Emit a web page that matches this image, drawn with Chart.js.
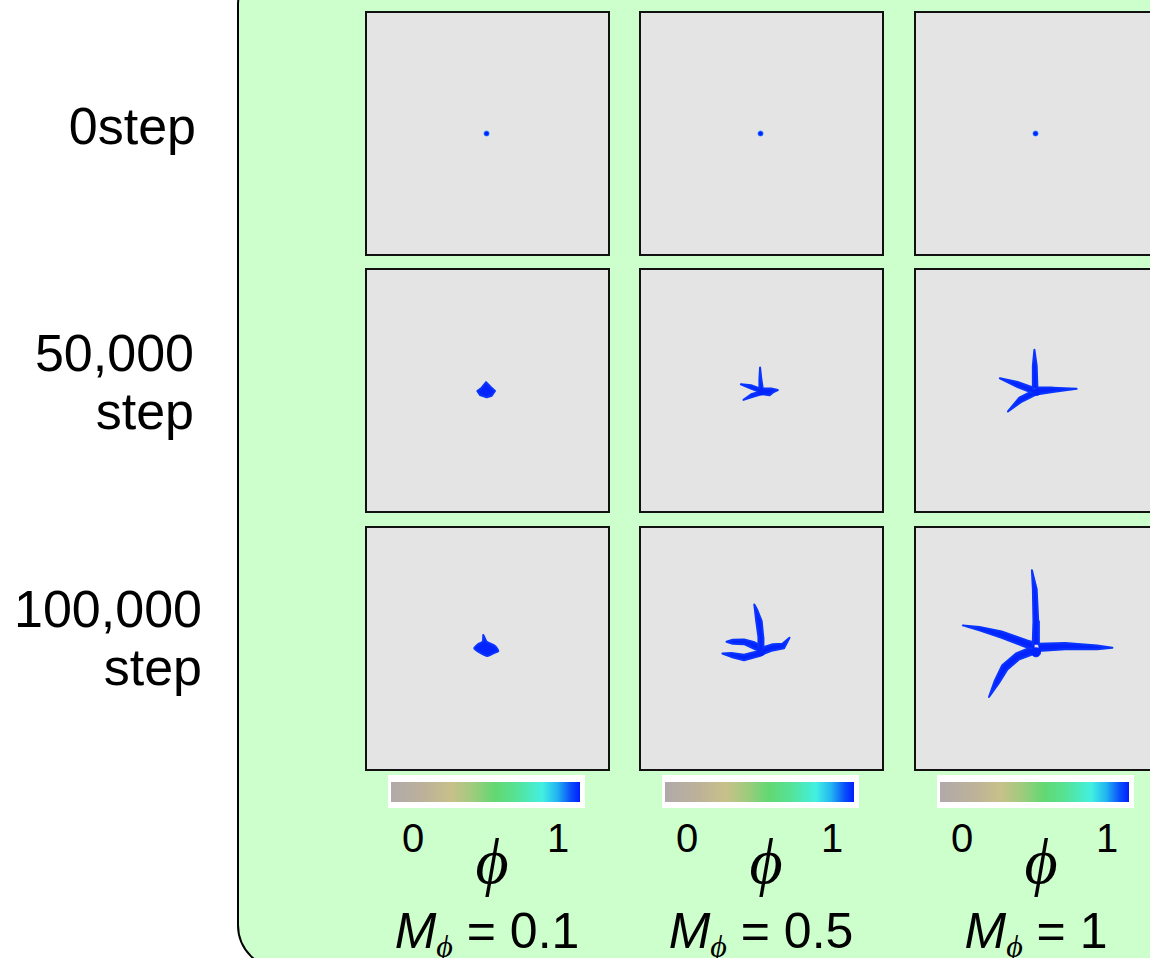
<!DOCTYPE html>
<html>
<head>
<meta charset="utf-8">
<script src="https://cdn.jsdelivr.net/npm/chart.js@4.4.1/dist/chart.umd.min.js"></script>
<style>
  body { margin: 0; width: 1150px; height: 958px; overflow: hidden; background: #fff;
         position: relative; font-family: "Liberation Sans", Arial, sans-serif; color: #000; }
  #frame { position: absolute; left: 237px; top: -40px; width: 1000px; height: 1006px;
           background: #ccffcc; border: 2px solid #000; border-radius: 45px; }
  .cell { position: absolute; width: 241px; height: 241px; border: 2px solid #111; background: #e4e4e4; }
  .cell canvas { display: block; }
  .rowlab { position: absolute; width: 220px; text-align: right; font-size: 52px; line-height: 58px; white-space: pre; }
  .cbar { position: absolute; width: 189px; height: 20px; background: #fff; padding: 7px 5px 6px 3px; }
  .cbar div { width: 100%; height: 100%;
    background: linear-gradient(to right, #b1a9aa 0%, #bdb299 18%, #c8c08a 32%, #9ccc7c 44%, #62d872 55%,
                #56e294 66%, #42f0e2 80%, #22b4f2 88%, #0a50fa 95%, #001eff 100%); }
  .tick { position: absolute; width: 40px; margin-left: -20px; text-align: center; font-size: 40px; line-height: 40px; }
  .phi { position: absolute; width: 60px; margin-left: -30px; text-align: center; font-family: "Liberation Serif", "DejaVu Serif", serif;
         font-style: italic; font-size: 64px; line-height: 64px; }
  .mlab { position: absolute; width: 240px; margin-left: -120px; text-align: center; font-size: 50px; line-height: 50px; white-space: nowrap; }
  .mlab i { font-style: italic; }
  .mlab sub { font-family: "Liberation Serif", "DejaVu Serif", serif; font-style: italic; font-size: 32px; vertical-align: -9px; line-height: 0; }
</style>
</head>
<body>
<div id="frame"></div>
<div id="root"></div>
<script>
// columns / rows
const mobility = ["0.1", "0.5", "1"];
const stepLabels = ["0step", "50,000\nstep", "100,000\nstep"];
const phiTicks = ["0", "1"];

// solid (phi = 1) region outlines, lattice units from the box centre (x right, y up)
// one list per column, entries for 0 / 50,000 / 100,000 steps
const shapesM01 = [
  [],
  [[[-1.5, 8.2], [3.2, 3.5], [7.5, -0.5], [4.2, -5.2], [-0.8, -6.8], [-7.5, -4.5], [-10.2, -0.5], [-5.8, 2.8], [-1.5, 8.2]]],
  [[[-4.2, 13.5], [-0.8, 6.8], [7.5, 2.5], [10.8, -2.5], [5.8, -4.8], [-0.2, -7.5], [-7.5, -4.2], [-13.2, 0.2],
    [-9.2, 4.5], [-4.8, 6.8], [-4.2, 13.5]]]
];
const shapesM05 = [
  [],
  [[[-2, 1], [-2.2, 12], [-1.5, 24], [-0.2, 12], [1.5, 1]],
   [[1, 2], [10, 2], [17, 0.5], [12, -2], [8.5, -5], [1, -4]],
   [[-1, 2], [-11, 5.5], [-21.5, 6.5], [-11, 2], [-1, -2]],
   [[-1, -1], [-10, -3.5], [-18.8, -9.8], [-9, -6.5], [0, -4]]],
  [[[-3.5, -1], [-3.2, 11.8], [-5.5, 28.5], [-7.5, 45.8], [-4.8, 41], [0.2, 28.5], [1.8, 11.8], [2, -1]],
   [[1, 1], [11.8, 4.5], [21.8, 5], [29.2, 11.2], [23.5, 0.2], [11.8, -2], [1, -6]],
   [[-1, 3], [-8.2, 6.8], [-18.2, 9.5], [-30, 9.2], [-36.5, 7], [-30, 5], [-18.2, 4.5], [-6.5, -0.8], [-1, -3]],
   [[-1, -1], [-4.8, -3.2], [-18.2, -6.5], [-31.5, -4.8], [-40.8, -5.2], [-31.5, -8.8], [-18.2, -12.2], [-3.2, -8.2], [0, -7]]]
];
const shapesM1 = [
  [],
  [[[-4.2, 2], [-3.8, 25.7], [-2.2, 42.5], [0.2, 25.7], [1, 2]],
   [[1.5, 3], [16.8, 3], [41.8, 1.7], [16.8, -1.5], [1.5, -4]],
   [[-3, 3], [-19.8, 8.8], [-38.2, 12.7], [-19.8, 3.5], [-3, -3]],
   [[-3, 0], [-17.9, -7.5], [-29.8, -21.8], [-15.1, -11.5], [0, -4]]],
  [[[-4, 4], [-3.2, 28.5], [-3.8, 62], [-4.8, 82], [0.2, 62], [1.8, 28.5], [2.5, 4]],
   [[2, 5], [30, 5.8], [63.5, 3.2], [79.5, 0.8], [63.5, -0.8], [30, -0.8], [2, -2.5]],
   [[-2, 6], [-9.8, 8.5], [-36.5, 17.8], [-59.8, 22.5], [-77.2, 24.2], [-59.8, 19], [-36.5, 11.2], [-9.8, 1], [-2, -1]],
   [[-4, 2], [-21.5, -5.2], [-35.9, -17.6], [-43.7, -33.6], [-49.8, -50.8], [-39.3, -36], [-30.5, -22], [-18, -11.2], [-1, -5]]]
];
// seed / core position per step
const seeds = [[-1, 0], [0, -1.5], [-0.5, -4]];

const shapeSets = [shapesM01, shapesM05, shapesM1];

// layout / style
const colLeft = [365, 639, 914];
const rowTop = [11, 268, 526];
const labTop = [97, 324, 580];
const labRight = [196, 194, 202];
const seedRadius = [[2.6, 0, 0], [2.6, 3, 3.5], [2.6, 3.5, 4.5]];
const blue = "#0424ff";
const edge = "#0a34ff";

const root = document.getElementById("root");

function el(cls, html, left, top) {
  const d = document.createElement("div");
  d.className = cls;
  d.innerHTML = html;
  d.style.left = left + "px";
  d.style.top = top + "px";
  root.appendChild(d);
  return d;
}

stepLabels.forEach((s, r) => {
  el("rowlab", s, labRight[r] - 220, labTop[r]);
});

shapeSets.forEach((col, c) => {
  col.forEach((shapes, r) => {
    const cell = el("cell", "", colLeft[c], rowTop[r]);
    const cv = document.createElement("canvas");
    cv.width = 241;
    cv.height = 241;
    cell.appendChild(cv);

    const sets = shapes.map(s => ({
      data: s.map(p => ({ x: p[0], y: p[1] })),
      showLine: true,
      pointRadius: 0,
      fill: "shape",
      backgroundColor: blue,
      borderColor: edge,
      borderWidth: 2,
      borderJoinStyle: "round",
      borderCapStyle: "round",
      tension: r === 2 && c === 0 ? 0.2 : 0,
      order: 1
    }));
    if (seedRadius[c][r] > 0) {
      sets.push({
        data: [{ x: seeds[r][0], y: seeds[r][1] }],
        pointRadius: seedRadius[c][r],
        backgroundColor: blue,
        borderColor: r === 0 ? "rgba(40,150,255,0.7)" : blue,
        borderWidth: 1,
        order: 0
      });
    }

    new Chart(cv, {
      type: "scatter",
      data: { datasets: sets },
      options: {
        responsive: false,
        animation: false,
        events: [],
        layout: { padding: 0 },
        plugins: { legend: { display: false }, tooltip: { enabled: false } },
        scales: {
          x: { type: "linear", min: -120.5, max: 120.5, display: false },
          y: { type: "linear", min: -120.5, max: 120.5, display: false }
        }
      }
    });
  });

  // colour bar and labels
  const x0 = colLeft[c];
  el("cbar", "<div></div>", x0 + 23, 775);
  el("tick", phiTicks[0], x0 + 48, 818);
  el("tick", phiTicks[1], x0 + 193, 818);
  el("phi", "\u03D5", x0 + 127, 830);
  el("mlab", "<i>M</i><sub>\u03D5</sub> = " + mobility[c], x0 + 122, 906);
});
</script>
</body>
</html>
